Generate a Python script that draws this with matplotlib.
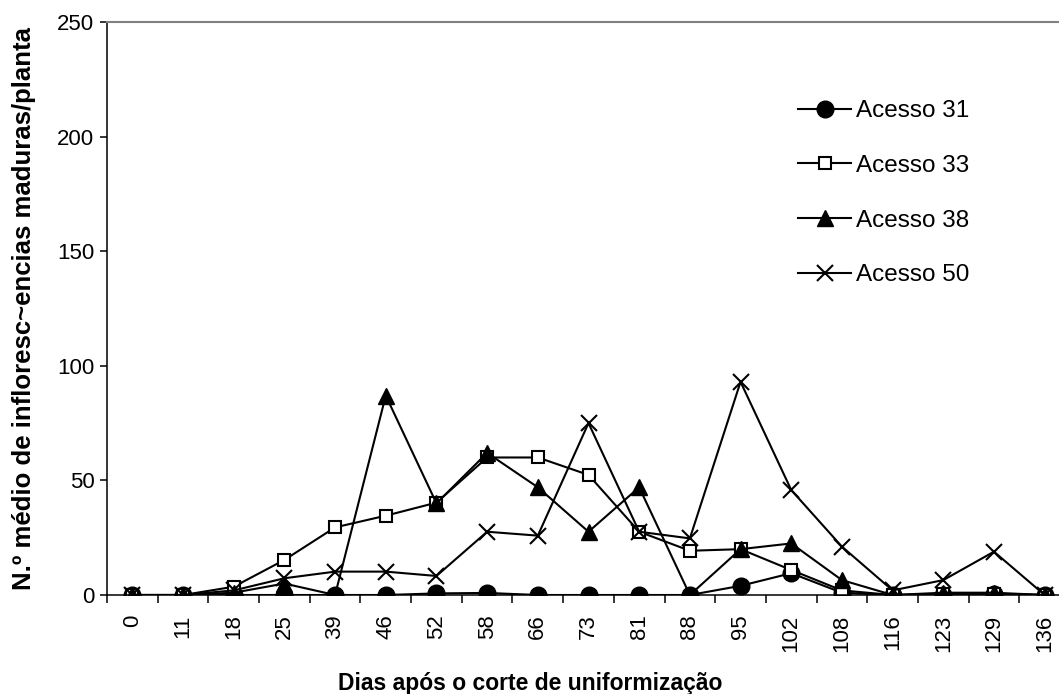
import matplotlib.pyplot as plt
import numpy as np

plt.rcParams['font.family'] = ['Liberation Sans', 'DejaVu Sans']

# dias após o corte
dias = ['0', '11', '18', '25', '39', '46', '52', '58', '66', '73',
        '81', '88', '95', '102', '108', '116', '123', '129', '136']

acesso_31 = [0, 0, 0, 0, 0, 0, 0.7, 0.9, 0, 0, 0, 0, 4, 9.5, 1, 0, 0, 0.5, 0]
acesso_33 = [0, 0, 3.6, 15.3, 29.5, 34.6, 40.3, 60, 60, 52.4, 27.6, 19.3,
             20, 10.9, 2, 0, 0.5, 0.5, 0]
acesso_38 = [0, 0, 1, 5, 0, 87, 40, 62, 47, 27.6, 47, 0, 20, 22.5, 6.5,
             0, 1, 1, 0]
acesso_50 = [0, 0, 2, 7.3, 10.2, 10.2, 8.3, 27.6, 25.9, 75, 27.6, 24.7,
             93, 45.8, 21.1, 2, 6.5, 18.9, 0]

fig = plt.figure(figsize=(10.59, 6.94), dpi=100)
ax = fig.add_axes([107 / 1059, 99 / 694, 963 / 1059, 573 / 694])

x = np.arange(len(dias))
ax.plot(x, acesso_31, '-', color='black', lw=1.5, marker='o', ms=12,
        mfc='black', mec='black', label='Acesso 31')
ax.plot(x, acesso_33, '-', color='black', lw=1.5, marker='s', ms=9,
        mfc='white', mec='black', mew=1.5, label='Acesso 33')
ax.plot(x, acesso_38, '-', color='black', lw=1.5, marker='^', ms=11,
        mfc='black', mec='black', label='Acesso 38')
ax.plot(x, acesso_50, '-', color='black', lw=1.5, marker='x', ms=12,
        mew=1.5, mec='black', label='Acesso 50')

ax.set_xlim(-0.5, len(dias) - 0.5)
ax.set_ylim(0, 250)
ax.set_yticks([0, 50, 100, 150, 200, 250])
ax.set_xticks(x)
ax.set_xticklabels(dias, rotation=90, fontsize=16)
# marcas entre as categorias
ax.set_xticks(np.arange(len(dias) + 1) - 0.5, minor=True)
ax.tick_params(axis='x', which='major', length=0, pad=14)
ax.tick_params(axis='x', which='minor', length=6, width=1.1, direction='out')
ax.tick_params(axis='y', length=5, width=1.1, direction='out', pad=4,
               labelsize=16)

for s in ['left', 'bottom']:
    ax.spines[s].set_linewidth(1.1)
    ax.spines[s].set_color('black')
ax.spines['top'].set_color('#808080')
ax.spines['top'].set_linewidth(1.5)
ax.spines['right'].set_visible(False)

ax.set_ylabel('N.º médio de infloresc~encias maduras/planta', fontsize=18.5,
              fontweight='bold')
ax.yaxis.set_label_coords((36 - 107) / 963, 0.5)
fig.text(530 / 1059, 1 - 690 / 694, 'Dias após o corte de uniformização',
         ha='center', va='baseline', fontsize=16.5, fontweight='bold')

ax.legend(loc='upper left', bbox_to_anchor=(798 / 1059, 1 - 100 / 694),
          bbox_transform=fig.transFigure, frameon=False, fontsize=17.5,
          handlelength=2.2, handletextpad=0.2, labelspacing=1.35,
          borderpad=0, borderaxespad=0)

fig.savefig('out.png', dpi=100)
